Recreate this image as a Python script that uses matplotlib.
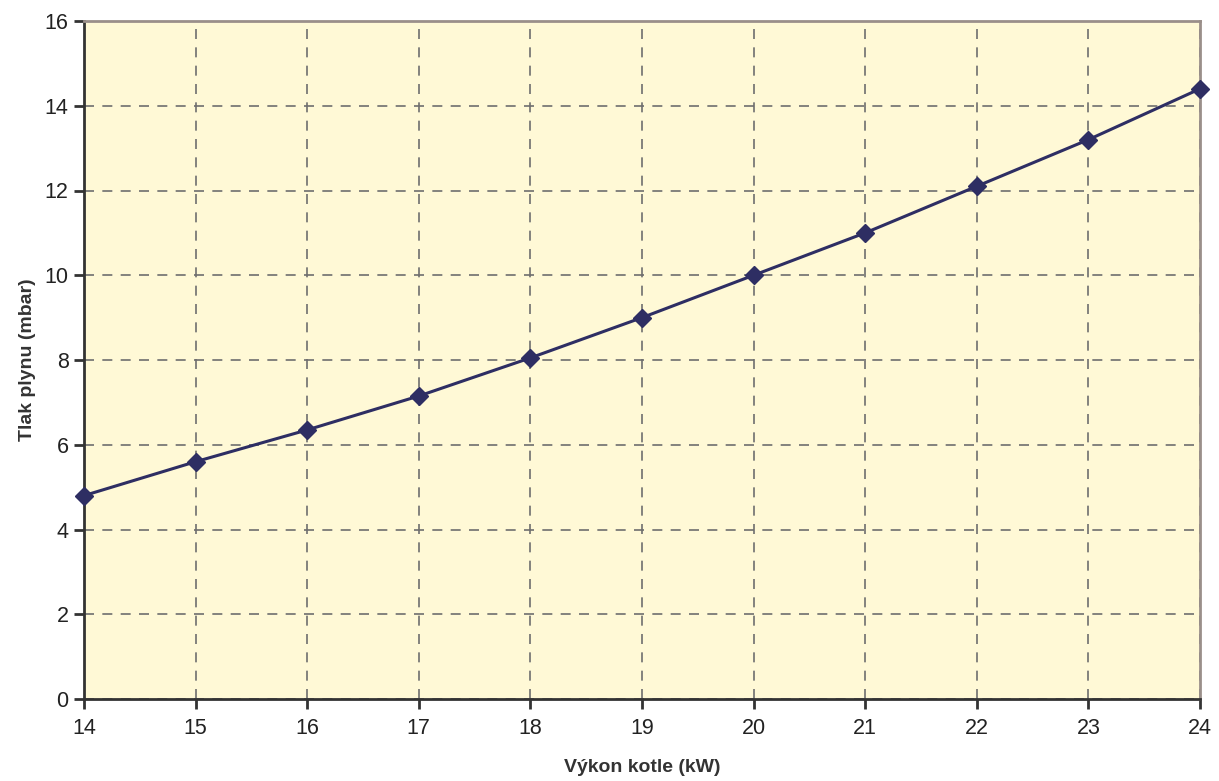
import matplotlib
matplotlib.use('Agg')
import matplotlib.pyplot as plt

# výkon kotle vs. tlak plynu
vykon = [14, 15, 16, 17, 18, 19, 20, 21, 22, 23, 24]
tlak = [4.8, 5.6, 6.35, 7.15, 8.05, 9.0, 10.0, 11.0, 12.1, 13.2, 14.4]
y_ticks = [0, 2, 4, 6, 8, 10, 12, 14, 16]

plt.rcParams['font.family'] = ['Liberation Sans', 'DejaVu Sans']

fig = plt.figure(figsize=(12.19, 7.81), dpi=100)
ax = fig.add_axes([84 / 1219, 1 - 699 / 781, (1200 - 84) / 1219, (699 - 21) / 781])
ax.set_facecolor('#fff9d6')

ax.plot(vykon, tlak, color='#2e2e63', linewidth=2.2, marker='D', markersize=9,
        markerfacecolor='#2e2e63', markeredgecolor='#2e2e63', zorder=3, clip_on=False)

ax.set_xlim(14, 24)
ax.set_ylim(0, 16)
ax.set_xticks(vykon)
ax.set_yticks(y_ticks)
ax.grid(True, color='#6e6e6e', linestyle=(0, (6, 5)), linewidth=1.2)

for s in ['left', 'bottom']:
    ax.spines[s].set_color('#333333')
    ax.spines[s].set_linewidth(2)
for s in ['top', 'right']:
    ax.spines[s].set_color('#9a8f8a')
    ax.spines[s].set_linewidth(2)

ax.tick_params(axis='both', direction='out', length=7, width=2, color='#333333',
               labelsize=15.5, labelcolor='#222222')
ax.tick_params(axis='y', pad=4)
ax.tick_params(axis='x', pad=7)

ax.set_xlabel('Výkon kotle (kW)', fontsize=14, fontweight='bold', color='#333333', labelpad=14)
ax.set_ylabel('Tlak plynu (mbar)', fontsize=14, fontweight='bold', color='#333333', labelpad=6)

fig.savefig('out.png', dpi=100)
